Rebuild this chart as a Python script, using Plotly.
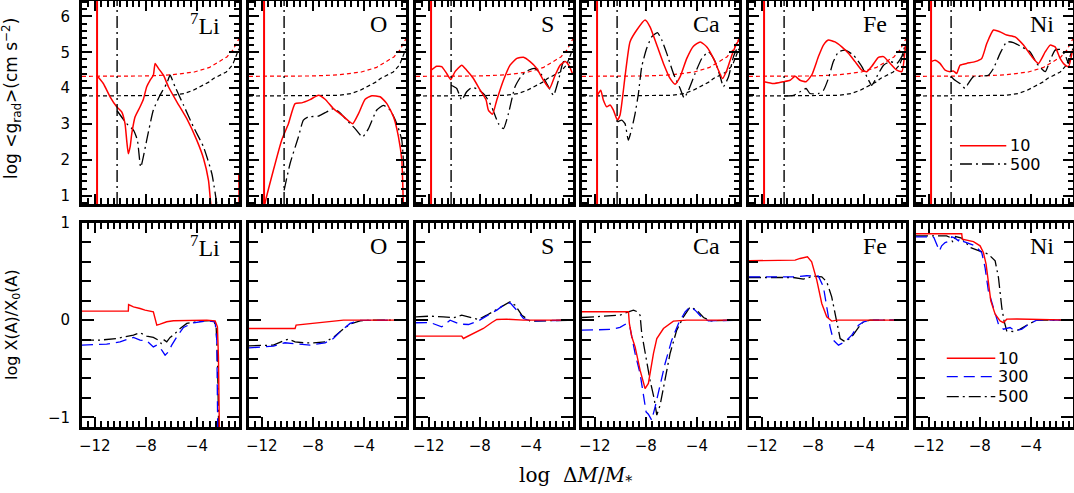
import plotly.graph_objects as go

W, H = 1074, 493

# panel labels
elements = ["<sup>7</sup>Li", "O", "S", "Ca", "Fe", "Ni"]

# vertical markers (log dM/M* of the zone bottom)
x_cz10 = -11.82
x_cz500 = -10.25

# reference curves in the top panels (same in every panel)
g10_x = [-13, -8, -6, -4.2, -3, -2, -1.65, -1.2, -0.7]
g10_y = [4.33, 4.34, 4.37, 4.45, 4.58, 4.78, 4.87, 5.05, 5.38]
g500_x = [-13, -8, -6, -5, -4.3, -3, -2.7, -1.7, -1.2, -0.7]
g500_y = [3.78, 3.78, 3.80, 3.85, 3.94, 4.18, 4.27, 4.45, 4.65, 5.10]

# ---- top row: log <g_rad>
li_g10_x = [-11.85, -11.33, -10.80, -10.28, -9.89, -9.63, -9.50, -9.37, -9.23, -9.10, -8.84, -8.45, -8.19,
            -7.93, -7.67, -7.41, -7.27, -7.01, -6.62, -6.23, -5.57, -4.79, -4.01, -3.48, -3.09, -2.91,
            -2.6, -0.9, -0.72]
li_g10_y = [4.36, 4.13, 3.76, 3.48, 3.34, 3.01, 2.55, 2.17, 2.36, 2.73, 3.20, 3.48, 3.69, 4.04, 4.22, 4.36,
            4.69, 4.55, 4.36, 4.04, 3.62, 3.15, 2.55, 2.04, 1.43, 0.78, 0.2, 0.2, 1.6]
li_g500_x = [-10.25, -9.50, -8.97, -8.66, -8.40, -7.93, -7.41, -6.88, -6.36, -6.10, -5.71, -5.05, -4.27,
             -3.48, -2.83, -2.44]
li_g500_y = [3.37, 3.01, 2.83, 2.55, 1.80, 2.55, 3.39, 3.81, 4.13, 4.36, 4.04, 3.53, 2.92, 2.36, 1.62, 0.78]

o_g10_x = [-11.82, -11.75, -11.09, -10.44, -9.91, -9.39, -8.87, -8.22, -7.56, -7.04, -6.39, -5.73, -5.21,
           -4.87, -4.42, -3.90, -3.38, -2.73, -2.20, -1.68, -1.29, -1.03, -0.90]
o_g10_y = [0.5, 0.78, 1.71, 2.55, 3.01, 3.57, 3.59, 3.68, 3.80, 3.69, 3.43, 3.25, 3.09, 3.01, 3.29, 3.69,
           3.79, 3.76, 3.57, 3.20, 2.64, 1.99, 0.6]
o_g500_x = [-10.25, -9.78, -9.13, -8.74, -8.35, -7.56, -6.91, -6.39, -5.86, -5.34, -4.69, -4.11, -3.64,
            -2.99, -2.47, -1.94, -1.42, -1.03, -0.85]
o_g500_y = [1.15, 1.90, 2.64, 3.11, 3.20, 3.22, 3.34, 3.43, 3.31, 3.11, 2.87, 2.64, 2.87, 3.39, 3.52, 3.39,
            3.01, 2.55, 1.6]

s_g10_x = [-11.82, -11.38, -10.99, -10.60, -10.28, -9.94, -9.42, -9.03, -8.50, -7.98, -7.51, -7.33, -7.01,
           -6.67, -6.15, -5.63, -5.10, -4.58, -4.06, -3.54, -3.01, -2.54, -2.10, -1.71, -1.31, -0.97, -0.72]
s_g10_y = [4.50, 4.61, 4.60, 4.41, 4.24, 4.46, 4.64, 4.50, 4.27, 3.95, 3.67, 3.39, 3.27, 3.67, 4.22, 4.64,
           4.83, 4.86, 4.74, 4.55, 4.22, 3.99, 4.36, 4.64, 4.74, 4.60, 4.38]
s_g500_x = [-10.25, -9.81, -9.42, -9.03, -8.63, -8.11, -7.59, -7.07, -6.54, -6.15, -5.76, -5.24, -4.71,
            -4.19, -3.67, -3.14, -2.62, -2.23, -1.84, -1.44, -1.05, -0.72]
s_g500_y = [4.08, 3.99, 3.67, 3.90, 4.02, 3.96, 3.80, 3.48, 3.01, 2.87, 3.29, 4.04, 4.36, 4.50, 4.55, 4.36,
            4.04, 3.80, 4.22, 4.74, 4.74, 4.58]

ca_g10_x = [-11.80, -11.53, -11.33, -11.06, -10.80, -10.54, -10.23, -10.02, -9.63, -9.24, -8.71, -8.06,
            -7.67, -7.14, -6.62, -6.10, -5.71, -5.31, -4.79, -4.27, -3.74, -3.22, -2.70, -2.31, -1.99,
            -1.65, -1.26, -0.87, -0.69]
ca_g10_y = [3.80, 3.94, 3.67, 3.48, 3.53, 3.39, 3.11, 3.25, 4.32, 5.29, 5.62, 5.90, 5.71, 5.20, 4.69, 4.27,
            4.11, 4.32, 4.83, 5.17, 5.29, 5.15, 4.83, 4.50, 4.27, 4.50, 4.92, 5.25, 5.34]
ca_g500_x = [-10.23, -9.89, -9.63, -9.37, -9.10, -8.84, -8.58, -8.32, -7.93, -7.54, -7.09, -6.75, -6.36,
             -5.84, -5.31, -5.00, -4.66, -4.14, -3.61, -3.09, -2.57, -2.17, -1.92, -1.52, -1.13, -0.74]
ca_g500_y = [3.06, 3.11, 3.01, 2.55, 2.87, 3.29, 3.85, 4.60, 5.11, 5.43, 5.55, 5.34, 4.97, 4.41, 3.99, 3.73,
             3.94, 4.41, 4.83, 5.01, 4.74, 4.32, 4.04, 4.32, 4.88, 5.20]

fe_g10_x = [-11.82, -11.09, -10.31, -9.78, -9.39, -9.00, -8.53, -8.09, -7.56, -7.17, -6.78, -6.26, -5.73,
            -5.21, -4.69, -4.16, -3.77, -3.38, -2.86, -2.46, -1.94, -1.42, -1.03, -0.74]
fe_g10_y = [4.18, 4.13, 4.18, 4.22, 4.33, 4.22, 4.18, 4.36, 4.88, 5.20, 5.34, 5.29, 5.15, 4.97, 4.74, 4.50,
            4.46, 4.61, 4.86, 4.88, 4.69, 4.50, 4.46, 5.2]
fe_g500_x = [-10.25, -9.52, -9.00, -8.53, -8.22, -7.56, -7.17, -6.78, -6.39, -5.99, -5.47, -4.82, -4.16,
             -3.77, -3.38, -2.99, -2.46, -1.94, -1.42, -1.03, -0.74]
fe_g500_y = [3.78, 3.80, 3.90, 3.99, 3.85, 3.85, 3.94, 4.27, 4.74, 5.01, 5.06, 4.92, 4.60, 4.32, 4.08, 4.32,
             4.64, 4.74, 4.69, 4.88, 5.25]

ni_g10_x = [-11.82, -11.51, -11.12, -10.72, -10.33, -10.07, -9.81, -9.55, -9.03, -8.37, -7.85, -7.45, -6.93,
            -6.41, -5.89, -5.24, -4.58, -3.93, -3.41, -2.88, -2.49, -2.10, -1.71, -1.31, -1.05, -0.74]
ni_g10_y = [4.74, 4.78, 4.69, 4.50, 4.46, 4.48, 4.41, 4.64, 4.69, 4.74, 4.83, 5.25, 5.62, 5.57, 5.48, 5.43,
            5.20, 4.88, 4.69, 5.01, 5.20, 5.15, 4.83, 4.64, 4.60, 5.05]
ni_g500_x = [-10.25, -9.94, -9.55, -9.16, -8.90, -8.50, -7.98, -7.33, -6.93, -6.41, -5.89, -5.37, -4.71,
             -4.06, -3.54, -2.88, -2.49, -2.10, -1.71, -1.31, -1.05, -0.74]
ni_g500_y = [4.32, 4.22, 4.13, 3.99, 4.13, 4.32, 4.33, 4.36, 4.55, 4.97, 5.29, 5.27, 5.15, 5.01, 4.69, 4.46,
             4.78, 5.06, 5.08, 4.92, 4.69, 5.10]

# ---- bottom row: log X(A)/X0(A)
li_x10_x = [-13, -9.37, -9.35, -8.97, -8.45, -8.06, -7.41, -7.30, -7.14, -6.88, -6.62, -6.36, -5.84, -4.79,
            -3.22, -2.57, -2.39, -2.31, -2.23]
li_x10_y = [0.093, 0.093, 0.161, 0.137, 0.12, 0.103, 0.086, 0.017, -0.051, -0.041, -0.027, -0.017, -0.007,
            -0.003, 0.0, -0.007, -0.069, -0.378, -1.2]
li_x300_x = [-13, -11.07, -10.02, -8.97, -8.45, -7.93, -7.41, -7.14, -6.75, -6.49, -6.23, -5.97, -5.57,
             -5.05, -4.27, -3.22, -2.57, -2.44, -2.36]
li_x300_y = [-0.257, -0.247, -0.223, -0.178, -0.206, -0.213, -0.275, -0.257, -0.309, -0.360, -0.326, -0.257,
             -0.172, -0.075, -0.027, -0.007, -0.017, -0.206, -1.2]
li_x500_x = [-13, -11.59, -10.28, -9.50, -8.97, -8.45, -7.93, -7.41, -7.01, -6.80, -6.62, -6.36, -6.10,
             -5.84, -5.31, -4.79, -3.74, -2.70, -2.49, -2.39, -2.28]
li_x500_y = [-0.206, -0.206, -0.189, -0.172, -0.154, -0.130, -0.165, -0.178, -0.206, -0.24, -0.199, -0.223,
             -0.178, -0.154, -0.086, -0.034, -0.010, -0.003, -0.069, -0.378, -1.2]

o_x10_x = [-13, -9.39, -9.31, -8.22, -6.91, -5.60, -0.7]
o_x10_y = [-0.086, -0.086, -0.051, -0.034, -0.017, 0.0, 0.0]
o_x300_x = [-13, -11.09, -10.18, -9.26, -8.22, -7.04, -6.39, -5.73, -5.08, -4.29, -0.7]
o_x300_y = [-0.285, -0.268, -0.233, -0.247, -0.257, -0.233, -0.189, -0.103, -0.034, -0.003, 0.0]
o_x500_x = [-13, -11.09, -10.31, -9.91, -9.39, -8.74, -7.95, -7.04, -6.39, -5.73, -5.08, -4.29, -3.25, -0.7]
o_x500_y = [-0.264, -0.257, -0.213, -0.195, -0.223, -0.233, -0.233, -0.223, -0.178, -0.103, -0.041, -0.007,
            0.0, 0.0]

s_x10_x = [-13, -9.42, -9.29, -8.50, -7.72, -7.06, -6.67, -5.89, -4.58, -0.7]
s_x10_y = [-0.165, -0.165, -0.189, -0.137, -0.086, -0.024, 0.007, 0.010, 0.0, 0.0]
s_x300_x = [-13, -11.90, -10.99, -10.33, -9.55, -8.89, -8.11, -7.33, -6.67, -6.02, -5.63, -5.11, -4.58,
            -4.06, -0.7]
s_x300_y = [-0.027, -0.024, -0.069, 0.0, -0.041, -0.045, -0.007, 0.051, 0.103, 0.165, 0.178, 0.103, 0.017,
            -0.007, 0.0]
s_x500_x = [-13, -11.90, -10.86, -10.07, -9.42, -8.76, -8.11, -7.46, -6.67, -6.02, -5.63, -5.24, -4.71,
            -4.06, -3.01, -0.7]
s_x500_y = [0.034, 0.041, 0.034, 0.024, 0.051, 0.027, 0.007, 0.051, 0.110, 0.165, 0.189, 0.154, 0.051,
            -0.010, -0.007, 0.0]

ca_x10_x = [-13, -9.36, -9.29, -9.10, -8.84, -8.45, -8.06, -7.80, -7.40, -7.14, -6.62, -5.84, -4.79, -0.7]
ca_x10_y = [0.086, 0.086, -0.034, -0.171, -0.275, -0.515, -0.704, -0.652, -0.343, -0.189, -0.086, -0.010,
            0.0, 0.0]
ca_x300_x = [-13, -10.80, -10.02, -9.50, -9.24, -8.84, -8.45, -8.19, -7.98, -7.80, -7.54, -7.27, -6.88,
             -6.49, -5.97, -5.44, -4.92, -4.53, -4.14, -3.61, -3.09, -0.7]
ca_x300_y = [-0.103, -0.096, -0.075, -0.034, -0.075, -0.343, -0.549, -0.755, -0.944, -0.968, -1.03, -0.892,
             -0.652, -0.446, -0.206, -0.034, 0.086, 0.137, 0.103, 0.027, -0.007, 0.0]
ca_x500_x = [-13, -10.02, -9.36, -8.97, -8.66, -8.45, -8.32, -8.06, -7.67, -7.35, -7.14, -6.88, -6.49,
             -6.10, -5.58, -5.05, -4.53, -4.01, -3.48, -2.96, -0.7]
ca_x500_y = [0.027, 0.051, 0.086, 0.103, 0.086, 0.051, -0.137, -0.343, -0.618, -0.807, -0.978, -0.875,
             -0.618, -0.343, -0.103, 0.034, 0.137, 0.103, 0.027, -0.007, 0.0]

fe_x10_x = [-13, -9.39, -9.00, -8.42, -8.09, -7.69, -7.30, -6.91, -6.52, -6.12, -0.7]
fe_x10_y = [0.611, 0.618, 0.635, 0.652, 0.601, 0.412, 0.172, 0.034, -0.010, 0.0, 0.0]
fe_x300_x = [-13, -9.52, -8.48, -7.56, -7.17, -6.91, -6.65, -6.39, -5.99, -5.47, -4.95, -4.42, -4.03,
             -3.38, -0.7]
fe_x300_y = [0.446, 0.446, 0.457, 0.453, 0.343, 0.137, -0.069, -0.206, -0.257, -0.223, -0.154, -0.051,
             -0.017, 0.0, 0.0]
fe_x500_x = [-13, -9.52, -8.74, -7.96, -7.30, -6.91, -6.52, -6.12, -5.86, -5.47, -4.95, -4.42, -4.03,
             -3.51, -0.7]
fe_x500_y = [0.439, 0.439, 0.422, 0.453, 0.446, 0.395, 0.240, 0.0, -0.189, -0.223, -0.172, -0.075, -0.017,
             0.0, 0.0]

ni_x10_x = [-13, -9.42, -9.37, -9.03, -8.50, -7.98, -7.72, -7.51, -7.33, -7.14, -6.80, -6.41, -6.15, -5.89,
            -5.10, -0.7]
ni_x10_y = [0.89, 0.89, 0.834, 0.823, 0.809, 0.765, 0.696, 0.576, 0.404, 0.198, 0.061, -0.008, -0.025, 0.01,
            0.012, 0.0]
ni_x300_x = [-13, -11.77, -11.6, -11.17, -10.99, -10.72, -10.33, -10.20, -9.94, -9.68, -9.55, -9.42, -9.03,
             -8.37, -7.85, -7.59, -7.33, -6.80, -6.54, -6.15, -5.63, -5.24, -4.71, -4.19, -3.54, -0.7]
ni_x300_y = [0.858, 0.858, 0.85, 0.713, 0.765, 0.799, 0.816, 0.858, 0.844, 0.816, 0.844, 0.816, 0.799,
             0.765, 0.696, 0.542, 0.301, 0.078, -0.042, -0.093, -0.076, -0.110, -0.093, -0.042, 0.0, 0.0]
ni_x500_x = [-13, -10.6, -10.33, -10.1, -9.9, -9.42, -8.76, -7.98, -7.33, -6.80, -6.54, -6.28, -6.10, -5.89,
             -5.37, -4.84, -4.19, -3.54, -0.7]
ni_x500_y = [0.868, 0.868, 0.851, 0.80, 0.86, 0.844, 0.748, 0.713, 0.679, 0.610, 0.439, 0.130, -0.007,
             -0.110, -0.117, -0.093, -0.042, 0.0, 0.0]

top_red = [(li_g10_x, li_g10_y), (o_g10_x, o_g10_y), (s_g10_x, s_g10_y),
           (ca_g10_x, ca_g10_y), (fe_g10_x, fe_g10_y), (ni_g10_x, ni_g10_y)]
top_black = [(li_g500_x, li_g500_y), (o_g500_x, o_g500_y), (s_g500_x, s_g500_y),
             (ca_g500_x, ca_g500_y), (fe_g500_x, fe_g500_y), (ni_g500_x, ni_g500_y)]
bot_red = [(li_x10_x, li_x10_y), (o_x10_x, o_x10_y), (s_x10_x, s_x10_y),
           (ca_x10_x, ca_x10_y), (fe_x10_x, fe_x10_y), (ni_x10_x, ni_x10_y)]
bot_blue = [(li_x300_x, li_x300_y), (o_x300_x, o_x300_y), (s_x300_x, s_x300_y),
            (ca_x300_x, ca_x300_y), (fe_x300_x, fe_x300_y), (ni_x300_x, ni_x300_y)]
bot_black = [(li_x500_x, li_x500_y), (o_x500_x, o_x500_y), (s_x500_x, s_x500_y),
             (ca_x500_x, ca_x500_y), (fe_x500_x, fe_x500_y), (ni_x500_x, ni_x500_y)]

RED = "#ff0000"
BLUE = "#0000ff"
BLACK = "#000000"
DASHDOT = "12px,4px,2px,4px"
DOTTED = "4px,3px"
LONGDASH = "11px,6px"

# panel geometry (pixels)
lefts = [82, 249, 416, 582, 749, 916]
pw = 157
rows_px = [(1, 204), (223, 427)]

fig = go.Figure()


def sfx(n):
    return "" if n == 1 else str(n)


def line(n, x, y, color, dash="solid", width=1.4, shape="linear"):
    fig.add_trace(go.Scatter(
        x=x, y=y, mode="lines", xaxis=f"x{sfx(n)}", yaxis=f"y{sfx(n)}",
        line=dict(color=color, dash=dash, width=width, shape=shape, smoothing=0.5),
        showlegend=False, hoverinfo="skip"
    ))


for i in range(6):
    n = i + 1
    line(n, g10_x, g10_y, RED, DOTTED, 1.2)
    line(n, g500_x, g500_y, BLACK, DOTTED, 1.2)
    line(n, top_black[i][0], top_black[i][1], BLACK, DASHDOT, 1.3, "spline")
    line(n, top_red[i][0], top_red[i][1], RED, "solid", 1.5, "spline")

    m = i + 7
    line(m, bot_black[i][0], bot_black[i][1], BLACK, DASHDOT, 1.3)
    line(m, bot_blue[i][0], bot_blue[i][1], BLUE, LONGDASH, 1.3)
    line(m, bot_red[i][0], bot_red[i][1], RED, "solid", 1.4)

tickfont = dict(family="DejaVu Sans", size=15, color="black")
minor_style = dict(ticks="inside", tickwidth=2, tickcolor="black")
layout = {}
shapes = []
annotations = []

for r, (ytop, ybot) in enumerate(rows_px):
    for i, left in enumerate(lefts):
        n = r * 6 + i + 1
        s = sfx(n)
        xdom = [left / W, min((left + pw) / W, 1.0)]
        ydom = [1 - ybot / H, 1 - ytop / H]
        layout[f"xaxis{s}"] = dict(
            domain=xdom, range=[-13, -0.7], anchor=f"y{s}",
            showline=True, linewidth=3, linecolor="black", mirror="ticks",
            ticks="inside", ticklen=10, tickwidth=2, tickcolor="black",
            tick0=-12, dtick=4,
            minor=dict(dtick=0.5, ticklen=6, **minor_style),
            showgrid=False, zeroline=False,
            showticklabels=(r == 1), tickfont=tickfont, ticklabelstandoff=3,
        )
        if r == 0:
            yr = dict(range=[0.77, 6.43], tick0=0, dtick=1, ticklen=10,
                      minor=dict(dtick=0.2, ticklen=5, **minor_style))
        else:
            yr = dict(range=[-1.1, 1.0], tick0=0, dtick=1, ticklen=12,
                      minor=dict(dtick=0.2, ticklen=9, **minor_style))
        layout[f"yaxis{s}"] = dict(
            domain=ydom, anchor=f"x{s}",
            showline=True, linewidth=3, linecolor="black", mirror="ticks",
            ticks="inside", tickwidth=2, tickcolor="black",
            showgrid=False, zeroline=False,
            showticklabels=(i == 0), tickfont=tickfont, ticklabelstandoff=6,
            **yr
        )
        # element label
        annotations.append(dict(
            text=elements[i], xref=f"x{s} domain", yref=f"y{s} domain",
            x=0.892, y=1 - 23.5 / (ybot - ytop), xanchor="right", yanchor="middle",
            showarrow=False, font=dict(family="Liberation Serif", size=24, color="black")
        ))
        if r == 0:
            for xv, col, dash, wd in [(x_cz10, RED, "solid", 2), (x_cz500, BLACK, DASHDOT, 1.4)]:
                shapes.append(dict(type="line", xref=f"x{s}", yref=f"y{s} domain",
                                   x0=xv, x1=xv, y0=0, y1=1,
                                   line=dict(color=col, dash=dash, width=wd)))

# legends
leg_font = dict(family="DejaVu Sans", size=16, color="black")
for yv, col, dash, lab in [(0.287, RED, "solid", "10"), (0.197, BLACK, DASHDOT, "500")]:
    shapes.append(dict(type="line", xref="x6 domain", yref="y6 domain", x0=0.28, x1=0.575,
                       y0=yv, y1=yv, line=dict(color=col, dash=dash, width=1.4)))
    annotations.append(dict(text=lab, xref="x6 domain", yref="y6 domain", x=0.59, y=yv,
                            xanchor="left", yanchor="middle", showarrow=False, font=leg_font,
                            borderpad=0))
for yv, col, dash, lab in [(0.337, RED, "solid", "10"), (0.247, BLUE, LONGDASH, "300"),
                           (0.149, BLACK, DASHDOT, "500")]:
    shapes.append(dict(type="line", xref="x12 domain", yref="y12 domain", x0=0.196, x1=0.505,
                       y0=yv, y1=yv, line=dict(color=col, dash=dash, width=1.4)))
    annotations.append(dict(text=lab, xref="x12 domain", yref="y12 domain", x=0.515, y=yv,
                            xanchor="left", yanchor="middle", showarrow=False, font=leg_font,
                            borderpad=0))

# axis titles
annotations.append(dict(
    text="log &lt;g<sub>rad</sub>&gt;(cm s<sup>\u22122</sup>)", xref="paper", yref="paper",
    x=12 / W, y=1 - 99 / H, xanchor="center", yanchor="middle", textangle=-90, showarrow=False,
    font=dict(family="DejaVu Sans", size=17, color="black")))
annotations.append(dict(
    text="log X(A)/X<sub>0</sub>(A)", xref="paper", yref="paper",
    x=12 / W, y=1 - 325 / H, xanchor="center", yanchor="middle", textangle=-90, showarrow=False,
    font=dict(family="DejaVu Sans", size=16, color="black")))
annotations.append(dict(
    text="log\u00a0\u00a0\u0394<i>M</i>/<i>M</i><sub>*</sub>", xref="paper", yref="paper",
    x=575 / W, y=1 - 476 / H, xanchor="center", yanchor="middle", showarrow=False,
    font=dict(family="DejaVu Serif", size=20, color="black")))

fig.update_layout(
    width=W, height=H,
    margin=dict(l=0, r=0, t=0, b=0, autoexpand=False),
    paper_bgcolor="white", plot_bgcolor="white",
    shapes=shapes, annotations=annotations,
    **layout
)

# the page body has a default 8px margin; drop it so the figure sits at the corner
fig.write_html("out.html", config={"displayModeBar": False},
               post_script="document.body.style.margin='0';")
